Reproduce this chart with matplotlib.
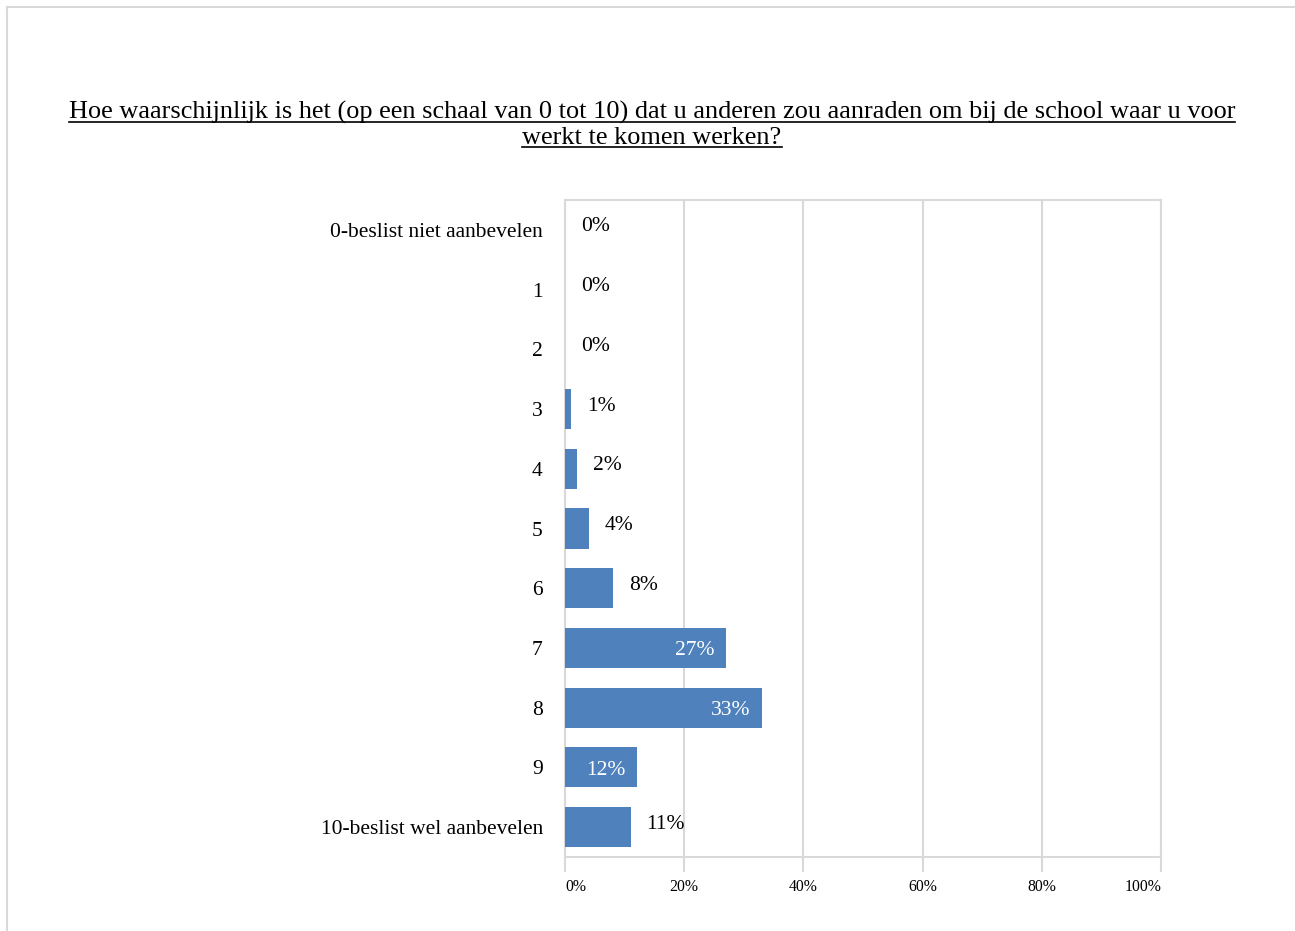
import matplotlib.pyplot as plt
from matplotlib.lines import Line2D

plt.rcParams['font.family'] = ['Liberation Serif', 'DejaVu Serif']

# Survey answers (share of respondents, %)
categories = ["0-beslist niet aanbevelen", "1", "2", "3", "4", "5", "6",
              "7", "8", "9", "10-beslist wel aanbevelen"]
values = [0, 0, 0, 1, 2, 4, 8, 27, 33, 12, 11]
inside_label = [False, False, False, False, False, False, False,
                True, True, True, False]
xticks = [0, 20, 40, 60, 80, 100]

title_lines = ["Hoe waarschijnlijk is het (op een schaal van 0 tot 10) dat u anderen zou aanraden om bij de school waar u voor",
               "werkt te komen werken?"]

BAR_COLOR = "#4f81bd"
GRID = "#d9d9d9"

W, H = 1295, 931
fig = plt.figure(figsize=(W / 100, H / 100), dpi=100)
ax = fig.add_axes([565 / W, 1 - 857 / H, (1161 - 565) / W, (857 - 200) / H])

y = list(range(len(categories)))
bars = ax.barh(y, values, height=0.67, color=BAR_COLOR, zorder=3)

for i, (bar, v) in enumerate(zip(bars, values)):
    if inside_label[i]:
        ax.annotate(f"{v}%", (v, i), xytext=(-11, -3), textcoords="offset pixels",
                    ha="right", va="center", color="white", fontsize=15.5, zorder=4)
    else:
        ax.annotate(f"{v}%", (v, i), xytext=(16, 3), textcoords="offset pixels",
                    ha="left", va="center", color="black", fontsize=15.5, zorder=4)

ax.set_xlim(0, 100)
ax.set_ylim(len(categories) - 0.5, -0.5)
ax.set_yticks(y)
ax.set_yticklabels(categories, fontsize=15.5)
ax.tick_params(axis="y", length=0, pad=16)
ax.set_xticks(xticks)
ax.set_xticklabels([f"{t}%" for t in xticks], fontsize=11.3)
ax.tick_params(axis="x", length=11, width=1.5, color=GRID, pad=5)
# first and last tick labels stay inside the plot width
xlabels = ax.get_xticklabels()
xlabels[0].set_ha("left")
xlabels[-1].set_ha("right")

ax.grid(axis="x", color=GRID, linewidth=1.5, zorder=0)
for side in ["left", "right", "top", "bottom"]:
    ax.spines[side].set_color(GRID)
    ax.spines[side].set_linewidth(1.5)

# Title, two centred lines with underline
title_texts = []
for k, line in enumerate(title_lines):
    t = fig.text(652 / W, 1 - (112 + 26 * k) / H, line, ha="center", va="center",
                 fontsize=18.9, color="black")
    title_texts.append(t)

fig.canvas.draw()
renderer = fig.canvas.get_renderer()
for t in title_texts:
    bb = t.get_window_extent(renderer)
    yline = bb.y0 + 2
    fig.add_artist(Line2D([bb.x0 / W, bb.x1 / W], [yline / H, yline / H],
                          transform=fig.transFigure, color="black", linewidth=1.2))

# Outer frame (top and left edges visible)
fig.add_artist(Line2D([7 / W, 1.0], [1 - 7 / H, 1 - 7 / H], transform=fig.transFigure,
                      color=GRID, linewidth=1.5))
fig.add_artist(Line2D([7 / W, 7 / W], [0, 1 - 7 / H], transform=fig.transFigure,
                      color=GRID, linewidth=1.5))

fig.savefig("out.png", dpi=100)
